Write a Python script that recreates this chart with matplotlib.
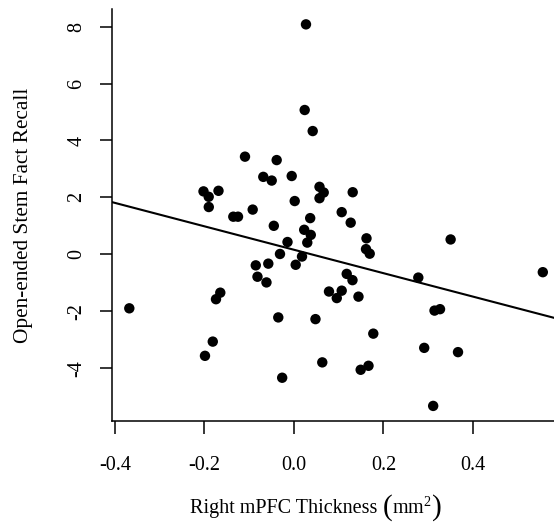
import matplotlib
matplotlib.use("Agg")
import matplotlib.pyplot as plt
import numpy as np

# Data
thickness = [0.0268, 0.0239, 0.0418, -0.1095, -0.0387, -0.0686, -0.0498, -0.0051,
             0.057, 0.0664, 0.057, 0.1312, -0.2022, -0.1906, -0.1687, -0.1904,
             0.0016, 0.1066, -0.0923, -0.1356, -0.1251, 0.0362, 0.1267, -0.0451,
             0.0228, 0.0375, 0.162, 0.35, -0.0145, 0.0297, 0.1609, 0.1692,
             -0.0313, 0.0179, -0.0854, -0.0574, 0.0038, 0.1178, 0.1307, 0.2778,
             0.556, -0.0816, -0.0615, -0.1647, -0.1743, 0.0782, 0.1066, 0.0956,
             0.1441, -0.368, 0.314, 0.3263, -0.0351, 0.048, 0.1772, -0.1815,
             -0.1989, 0.291, 0.3665, 0.0632, 0.149, 0.1665, -0.0264, 0.311]
recall = [8.08, 5.07, 4.33, 3.43, 3.31, 2.72, 2.59, 2.75,
          2.37, 2.17, 1.97, 2.18, 2.21, 2.02, 2.23, 1.66,
          1.87, 1.48, 1.57, 1.32, 1.32, 1.27, 1.11, 1.00,
          0.86, 0.68, 0.56, 0.52, 0.43, 0.41, 0.18, 0.02,
          0.01, -0.08, -0.39, -0.33, -0.37, -0.69, -0.91, -0.82,
          -0.63, -0.79, -0.99, -1.35, -1.58, -1.31, -1.28, -1.54,
          -1.49, -1.90, -1.98, -1.93, -2.22, -2.28, -2.79, -3.07,
          -3.57, -3.29, -3.44, -3.80, -4.06, -3.92, -4.34, -5.33]
fit_intercept = 0.158
fit_slope = -4.117
x_ticks = [-0.4, -0.2, 0.0, 0.2, 0.4]
x_ticklabels = ["-0.4", "-0.2", "0.0", "0.2", "0.4"]
y_ticks = [-4, -2, 0, 2, 4, 6, 8]
y_ticklabels = ["-4", "-2", "0", "2", "4", "6", "8"]
x_label_text = "Right mPFC Thickness "
x_label_unit = r"mm$^{2}$"
y_label_text = "Open-ended Stem Fact Recall"

plt.rcParams['font.family'] = ['Liberation Serif', 'DejaVu Serif']
plt.rcParams['mathtext.fontset'] = 'custom'
plt.rcParams['mathtext.rm'] = 'Liberation Serif'
plt.rcParams['mathtext.it'] = 'Liberation Serif:italic'

W, H = 554, 525
fig = plt.figure(figsize=(W / 100, H / 100), dpi=100)
L, R, B, T = 112.3, 554, 420.7, 9
ax = fig.add_axes([L / W, 1 - B / H, (R - L) / W, (B - T) / H])

ax.set_xlim(-0.406, 0.581)
ax.set_ylim(-5.85, 8.62)

ax.scatter(thickness, recall, s=56, color='black', edgecolors='none', zorder=3)
ax.axline((0, fit_intercept), slope=fit_slope, color='black', lw=1.5, zorder=2)

for s in ['top', 'right']:
    ax.spines[s].set_visible(False)
for s in ['left', 'bottom']:
    ax.spines[s].set_linewidth(1.1)

ax.set_xticks(x_ticks)
ax.set_xticklabels(x_ticklabels)
ax.set_yticks(y_ticks)
ax.set_yticklabels(y_ticklabels, rotation=90, va='center')
ax.tick_params(axis='both', direction='out', length=9, width=1.1, labelsize=14.5)
ax.tick_params(axis='x', pad=16.2)
ax.tick_params(axis='y', pad=9.5)

ax.set_ylabel(y_label_text, fontsize=15.3)
ax.yaxis.set_label_coords(-(L - 24) / (R - L), (B - 215) / (B - T), transform=ax.transAxes)
ax.yaxis.label.set_va('center')

# x label assembled from pieces so the parentheses can be taller
fs = 14.5
yc = 1 - 508 / H
renderer = fig.canvas.get_renderer()
pieces = [(x_label_text, fs), ("(", fs * 1.45), (x_label_unit, fs), (")", fs * 1.45)]
texts = []
widths = []
for s, f in pieces:
    t = fig.text(0, yc, s, fontsize=f, ha='left', va='center')
    bb = t.get_window_extent(renderer)
    texts.append(t)
    widths.append(bb.width)
total = sum(widths)
x0 = 316 - total / 2
for t, w in zip(texts, widths):
    t.set_x(x0 / W)
    x0 += w

fig.savefig("out.png", dpi=100)
